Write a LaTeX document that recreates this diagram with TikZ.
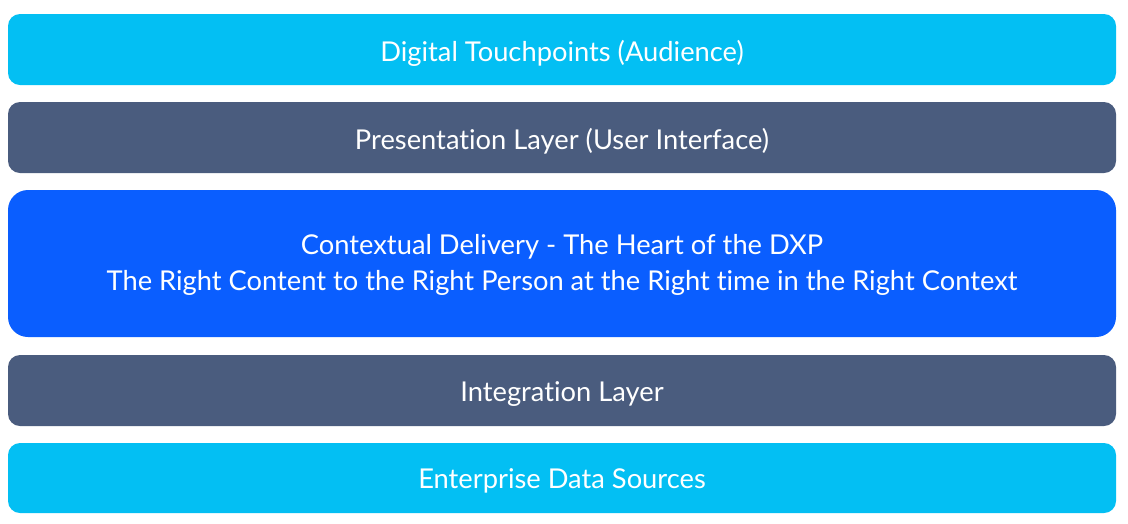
\documentclass[tikz,border=0pt]{standalone}
\usepackage{fontspec}
\setmainfont{Lato}[Ligatures=NoCommon]
\definecolor{cyanL}{HTML}{03BFF3}
\definecolor{slateL}{HTML}{4A5C7E}
\definecolor{blueL}{HTML}{0A5EFF}
\begin{document}
\begin{tikzpicture}[x=1pt,y=-1pt,
  layer/.style={rounded corners=12pt},
  lbl/.style={text=white,font=\fontsize{27.3}{36}\selectfont,align=center}]
\useasboundingbox (0,0) rectangle (1128,523);
\fill[cyanL,layer] (8,14) rectangle (1116,85);
\node[lbl] (t1) at (562,53) {Digital Touchpoints (Audience)};
\fill[slateL,layer] (8,102) rectangle (1116,173);
\node[lbl] (t2) at (562,141) {Presentation Layer (User Interface)};
\fill[blueL,rounded corners=20pt] (8,190) rectangle (1116,337);
\node[lbl] (t3) at (562,265) {Contextual Delivery - The Heart of the DXP\\The Right Content to the Right Person at the Right time in the Right Context};
\fill[slateL,layer] (8,355) rectangle (1116,426);
\node[lbl] (t4) at (562,394) {Integration Layer};
\fill[cyanL,layer] (8,443) rectangle (1116,513);
\node[lbl] (t5) at (562,481) {Enterprise Data Sources};
\end{tikzpicture}
\end{document}
